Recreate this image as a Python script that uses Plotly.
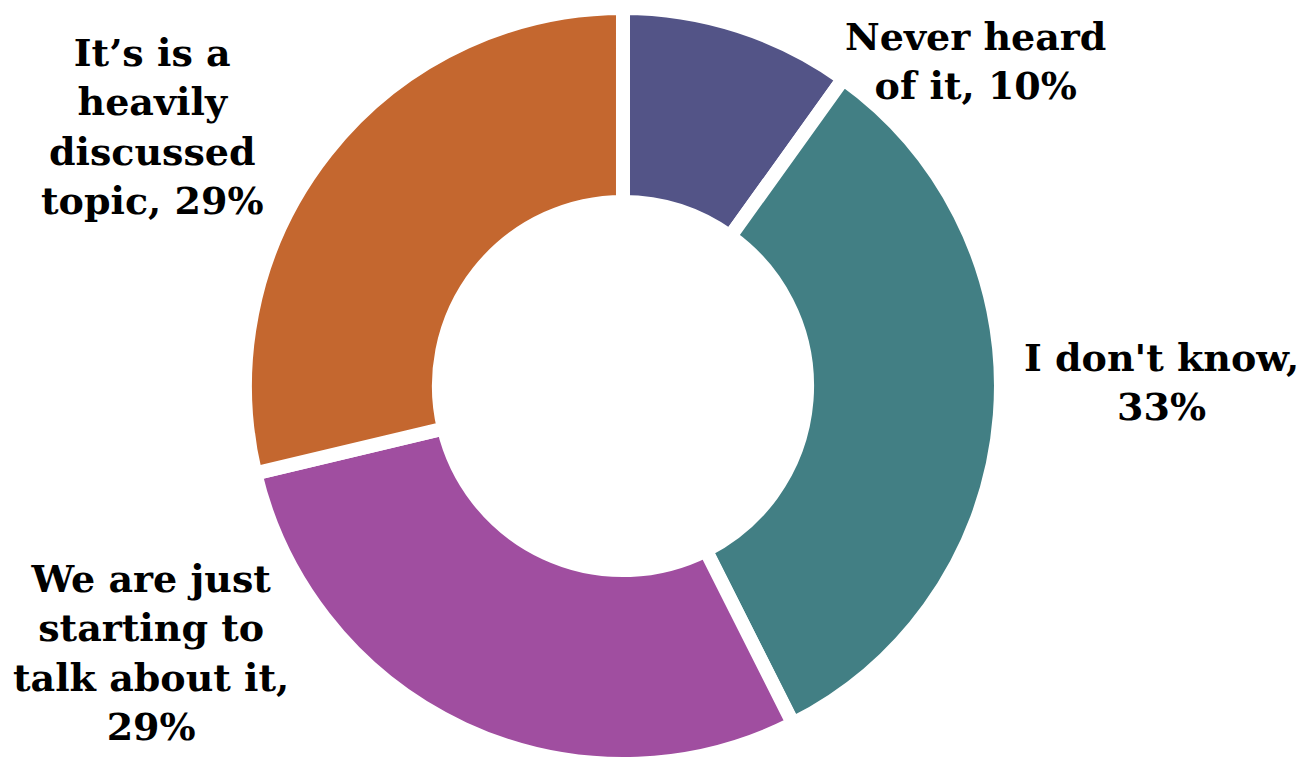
import plotly.graph_objects as go

names = ["Never heard of it", "I don't know", "We are just starting to talk about it", "It’s is a heavily discussed topic"]
values = [10, 33, 29, 29]
colors = ["#535487", "#427F84", "#A04EA0", "#C4672F"]

label_text = {
    "Never heard of it": "Never heard<br>of it, {}%",
    "I don't know": "I don't know,<br>{}%",
    "We are just starting to talk about it": "We are just<br>starting to<br>talk about it,<br>{}%",
    "It’s is a heavily discussed topic": "It’s is a<br>heavily<br>discussed<br>topic, {}%",
}
label_pos = {
    "Never heard of it": (0.7416, 0.930),
    "I don't know": (0.8836, 0.506),
    "We are just starting to talk about it": (0.1096, 0.148),
    "It’s is a heavily discussed topic": (0.1111, 0.843),
}

fig = go.Figure(go.Pie(
    labels=names, values=values, sort=False, direction="clockwise", rotation=0,
    hole=0.487, marker=dict(colors=colors, line=dict(color="white", width=14)),
    textinfo="none", showlegend=False,
    domain=dict(x=[0.1816, 0.7609], y=[0.0013, 1.0]),
))

for n, v in zip(names, values):
    x, y = label_pos[n]
    fig.add_annotation(x=x, y=y, xref="paper", yref="paper", text="<b>" + label_text[n].format(v) + "</b>",
                       showarrow=False, xanchor="center", yanchor="middle", align="center",
                       font=dict(family="DejaVu Serif", size=38, color="black"))

fig.update_layout(width=1305, height=757, margin=dict(l=0, r=0, t=0, b=0),
                  paper_bgcolor="white", plot_bgcolor="white")
fig.write_html("out.html")
